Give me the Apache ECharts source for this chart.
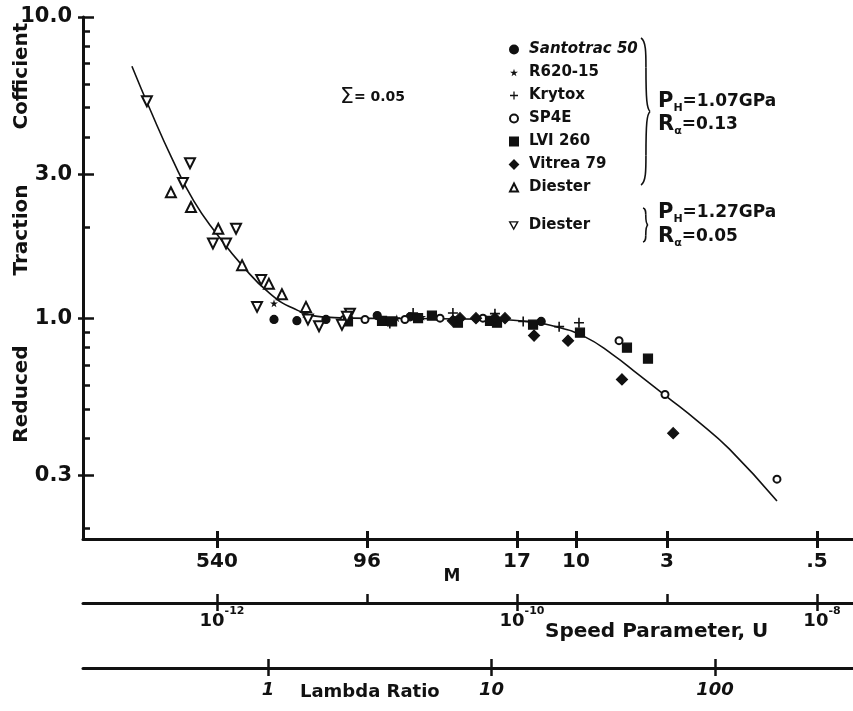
<!DOCTYPE html>
<html>
<head>
<meta charset="utf-8">
<script src="https://cdn.jsdelivr.net/npm/echarts@6/dist/echarts.min.js"></script>
<style>
  html, body { margin: 0; padding: 0; background: #ffffff; }
  #chart { width: 853px; height: 711px; }
</style>
</head>
<body>
<div id="chart"></div>
<script>
// Reduced traction coefficient versus speed parameter U, log–log.
// Each pair is [U, reduced traction coefficient].
const santotrac50 = [[2.40e-12, 0.99], [3.41e-12, 0.981], [5.33e-12, 0.99], [1.17e-11, 1.02], [1.94e-11, 1.01], [3.86e-11, 0.98], [1.45e-10, 0.975]];
const r620_15 = [[2.40e-12, 1.12], [3.86e-12, 1.03], [1.58e-11, 1.0], [2.33e-11, 1.01]];
const krytox = [[1.42e-11, 0.96], [2.03e-11, 1.04], [3.74e-11, 1.04], [7.13e-11, 1.035], [1.10e-10, 0.975], [1.91e-10, 0.937], [2.59e-10, 0.966]];
const sp4e = [[7.03e-12, 0.99], [9.70e-12, 0.99], [1.79e-11, 0.99], [3.07e-11, 1.0], [5.93e-11, 1.0], [4.79e-10, 0.842], [9.70e-10, 0.558], [5.41e-9, 0.292]];
const lvi260 = [[7.47e-12, 0.975], [1.26e-11, 0.98], [1.47e-11, 0.975], [2.19e-11, 1.0], [2.71e-11, 1.02], [4.04e-11, 0.966], [6.61e-11, 0.98], [7.36e-11, 0.966], [1.28e-10, 0.952], [2.63e-10, 0.895], [5.41e-10, 0.798], [7.47e-10, 0.734]];
const vitrea79 = [[3.74e-11, 0.98], [4.17e-11, 1.0], [5.33e-11, 1.0], [7.13e-11, 1.0], [8.32e-11, 1.0], [1.30e-10, 0.875], [2.19e-10, 0.842], [5.01e-10, 0.626], [1.10e-9, 0.415]];
const diester107 = [[4.93e-13, 2.62], [6.71e-13, 2.34], [1.02e-12, 1.98], [1.47e-12, 1.50], [2.22e-12, 1.30], [2.71e-12, 1.20], [3.92e-12, 1.09]];
const diester127 = [[3.41e-13, 5.25], [6.61e-13, 3.27], [5.93e-13, 2.81], [1.34e-12, 1.98], [9.40e-13, 1.77], [1.15e-12, 1.77], [1.97e-12, 1.34], [1.85e-12, 1.09], [4.04e-12, 0.99], [4.79e-12, 0.94], [7.70e-12, 1.035], [6.81e-12, 0.95], [7.36e-12, 1.01]];

// Master curve through the data
const masterCurve = [[2.71e-13, 6.86], [3.60e-13, 4.90], [5.00e-13, 3.40], [7.00e-13, 2.45], [1.00e-12, 1.90], [1.50e-12, 1.48], [2.20e-12, 1.22], [3.20e-12, 1.08], [5.00e-12, 1.01], [8.00e-12, 1.0], [2.00e-11, 0.997], [6.00e-11, 0.993], [1.10e-10, 0.978], [1.80e-10, 0.938], [2.80e-10, 0.870], [4.30e-10, 0.760], [6.50e-10, 0.648], [1.00e-9, 0.548], [1.60e-9, 0.455], [2.60e-9, 0.368], [5.41e-9, 0.247]];

// Tick values and labels
const yMajorTicks = [0.3, 1, 3, 10];
const yMinorTicks = [0.2, 0.4, 0.5, 0.6, 0.7, 0.8, 0.9, 2, 4, 5, 6, 7, 8, 9];
const mLabels = ['540', '96', '17', '10', '3', '.5'];
const mTickU = [1e-12, 1e-11, 1e-10, 2.47e-10, 1e-9, 1e-8];
const uTicks = [1e-12, 1e-11, 1e-10, 1e-9, 1e-8];
const uLabelTicks = [1e-12, 1e-10, 1e-8];
const lambdaTicks = [1, 10, 100];

const seriesNames = ['Santotrac 50', 'R620-15', 'Krytox', 'SP4E', 'LVI 260', 'Vitrea 79', 'Diester (1.07 GPa)', 'Diester (1.27 GPa)'];

const FONT = '"DejaVu Sans", "Liberation Sans", sans-serif';
const INK = '#111111';

const U_MIN = 1.279e-13, U_MAX = 1.738e-8;
const L_MIN = 0.1487, L_MAX = 414.4;
const R_MIN = 0.1848, R_MAX = 10;

const STAR = 'path://M50,0 L61,35 L98,35 L68,57 L79,91 L50,70 L21,91 L32,57 L2,35 L39,35 Z';
const PLUS = 'path://M4.2,0 H5.8 V4.2 H10 V5.8 H5.8 V10 H4.2 V5.8 H0 V4.2 H4.2 Z';
const DOWN_TRIANGLE = 'path://M0,0 L10,0 L5,9 Z';

function sameLog(a, b) { return Math.abs(Math.log10(a) - Math.log10(b)) < 1e-6; }

function bareAxis(extra) {
  return Object.assign({
    type: 'log', logBase: 10,
    position: 'bottom', offset: 0,
    axisLine: { show: false },
    axisTick: { show: false },
    axisLabel: { show: false },
    splitLine: { show: false },
    minorTick: { show: false },
    silent: true
  }, extra);
}

const boldLabel = { fontFamily: FONT, fontWeight: 'bold', color: INK };

const xAxes = [
  // M scale on the main axis
  bareAxis({
    min: U_MIN, max: U_MAX,
    axisLine: { show: true, lineStyle: { color: INK, width: 3 } },
    axisTick: { show: true, customValues: mTickU, length: 9, lineStyle: { color: INK, width: 3 } },
    axisLabel: Object.assign({
      show: true, customValues: mTickU, margin: 13, fontSize: 20,
      formatter: function (v) {
        const i = mTickU.findIndex(function (t) { return sameLog(t, v); });
        return i >= 0 ? mLabels[i] : '';
      }
    }, boldLabel)
  }),
  bareAxis({
    min: U_MIN, max: U_MAX,
    axisTick: { show: true, inside: true, customValues: mTickU, length: 8, lineStyle: { color: INK, width: 3 } }
  }),
  // Speed parameter U
  bareAxis({
    min: U_MIN, max: U_MAX, offset: 64,
    axisLine: { show: true, lineStyle: { color: INK, width: 3 } },
    axisTick: { show: true, customValues: uLabelTicks, length: 8, lineStyle: { color: INK, width: 2.5 } },
    axisLabel: {
      show: true, customValues: uLabelTicks, margin: 3, padding: [0, 0, 0, 10],
      formatter: function (v) { return '{b|10}{s|' + Math.round(Math.log10(v)) + '}'; },
      rich: {
        b: { fontFamily: FONT, fontWeight: 'bold', fontSize: 18, color: INK, lineHeight: 24, verticalAlign: 'bottom' },
        s: { fontFamily: FONT, fontWeight: 'bold', fontSize: 11, color: INK, lineHeight: 24, verticalAlign: 'top' }
      }
    }
  }),
  bareAxis({
    min: U_MIN, max: U_MAX, offset: 64,
    axisTick: { show: true, inside: true, customValues: uTicks, length: 9, lineStyle: { color: INK, width: 2.5 } }
  }),
  // Lambda ratio
  bareAxis({
    min: L_MIN, max: L_MAX, offset: 129,
    axisLine: { show: true, lineStyle: { color: INK, width: 3 } },
    axisTick: { show: true, customValues: lambdaTicks, length: 8, lineStyle: { color: INK, width: 2.5 } },
    axisLabel: Object.assign({
      show: true, customValues: lambdaTicks, margin: 13, fontSize: 18, fontStyle: 'italic',
      formatter: function (v) { return String(Math.round(v)); }
    }, boldLabel)
  }),
  bareAxis({
    min: L_MIN, max: L_MAX, offset: 129,
    axisTick: { show: true, inside: true, customValues: lambdaTicks, length: 9, lineStyle: { color: INK, width: 2.5 } }
  })
];

function bareY(extra) {
  return Object.assign({
    type: 'log', logBase: 10, min: R_MIN, max: R_MAX,
    position: 'left', offset: 0,
    axisLine: { show: false },
    axisTick: { show: false },
    axisLabel: { show: false },
    splitLine: { show: false },
    minorTick: { show: false },
    silent: true
  }, extra);
}

const yAxes = [
  bareY({
    axisLine: { show: true, lineStyle: { color: INK, width: 3 } },
    axisTick: { show: true, inside: true, customValues: yMinorTicks.concat(yMajorTicks), length: 7, lineStyle: { color: INK, width: 2.5 } },
    axisLabel: Object.assign({
      show: true, customValues: yMajorTicks, margin: 11, fontSize: 21,
      formatter: function (v) { return Number(v).toFixed(1); }
    }, boldLabel)
  }),
  bareY({ axisTick: { show: true, inside: true, customValues: yMajorTicks, length: 11, lineStyle: { color: INK, width: 2.5 } } }),
  bareY({ axisTick: { show: true, inside: false, customValues: yMajorTicks, length: 5, lineStyle: { color: INK, width: 2.5 } } })
];

function scatter(name, data, symbol, size, style, extra) {
  return Object.assign({
    name: name, type: 'scatter', data: data,
    xAxisIndex: 0, yAxisIndex: 0,
    symbol: symbol, symbolSize: size,
    itemStyle: Object.assign({ color: INK, borderColor: INK, borderWidth: 1.2, opacity: 1 }, style || {}),
    z: 3
  }, extra || {});
}

const series = [
  {
    name: 'master curve', type: 'line', data: masterCurve,
    xAxisIndex: 0, yAxisIndex: 0,
    smooth: 0.5, showSymbol: false, symbol: 'none',
    lineStyle: { color: INK, width: 1.6 }, z: 2, silent: true
  },
  scatter(seriesNames[0], santotrac50, 'circle', 8),
  scatter(seriesNames[1], r620_15, STAR, 8, { borderWidth: 0 }),
  scatter(seriesNames[2], krytox, PLUS, 10, { borderWidth: 0 }),
  scatter(seriesNames[3], sp4e, 'emptyCircle', 7, { borderWidth: 1.6 }),
  scatter(seriesNames[4], lvi260, 'rect', 9),
  scatter(seriesNames[5], vitrea79, 'diamond', 11),
  scatter(seriesNames[6], diester107, 'emptyTriangle', 10, { borderWidth: 1.4 }),
  scatter(seriesNames[7], diester127, 'emptyTriangle', 10, { borderWidth: 1.4 }, { symbolRotate: 180 })
];

const legendText = { fontFamily: FONT, fontWeight: 'bold', fontSize: 15, color: INK, lineHeight: 15, padding: [0, 0, 0, 6] };
function legendName(n) { return n.indexOf('Diester') === 0 ? 'Diester' : n; }

const legendBase = {
  orient: 'vertical', left: 504,
  itemWidth: 8, itemHeight: 8, itemGap: 8,
  symbolKeepAspect: true,
  selectedMode: false,
  formatter: legendName,
  textStyle: legendText
};

const legends = [
  Object.assign({}, legendBase, {
    top: 37,
    data: seriesNames.slice(0, 7).map(function (n, i) {
      return i === 0 ? { name: n, textStyle: { fontStyle: 'italic' } } : { name: n };
    })
  }),
  Object.assign({}, legendBase, {
    top: 213,
    data: [{
      name: seriesNames[7],
      icon: DOWN_TRIANGLE,
      itemStyle: { color: '#ffffff', borderColor: INK, borderWidth: 1.4 }
    }]
  })
];

function brace(x0, yTop, yBottom, depth) {
  const yMid = (yTop + yBottom) / 2;
  const h = yBottom - yTop;
  const spine = x0 + depth * 0.55;
  const tip = x0 + depth;
  const ls = { stroke: INK, lineWidth: 1.6, fill: null };
  return [
    { type: 'bezierCurve', shape: { x1: x0, y1: yTop, cpx1: spine, cpy1: yTop + h * 0.02, cpx2: spine, cpy2: yTop + h * 0.1, x2: spine, y2: yTop + h * 0.2 }, style: ls, silent: true },
    { type: 'bezierCurve', shape: { x1: spine, y1: yTop + h * 0.2, cpx1: spine, cpy1: yMid - h * 0.08, cpx2: spine + depth * 0.1, cpy2: yMid - h * 0.02, x2: tip, y2: yMid }, style: ls, silent: true },
    { type: 'bezierCurve', shape: { x1: tip, y1: yMid, cpx1: spine + depth * 0.1, cpy1: yMid + h * 0.02, cpx2: spine, cpy2: yMid + h * 0.08, x2: spine, y2: yBottom - h * 0.2 }, style: ls, silent: true },
    { type: 'bezierCurve', shape: { x1: spine, y1: yBottom - h * 0.2, cpx1: spine, cpy1: yBottom - h * 0.1, cpx2: spine, cpy2: yBottom - h * 0.02, x2: x0, y2: yBottom }, style: ls, silent: true }
  ];
}

function condition(x, y, sym, sub, rest) {
  return {
    type: 'text', x: x, y: y, silent: true,
    style: {
      text: '{p|' + sym + '}{h|' + sub + '}{t|' + rest + '}',
      align: 'left', verticalAlign: 'middle',
      rich: {
        p: { fontFamily: FONT, fontWeight: 'bold', fontSize: 21, fill: INK, lineHeight: 24, verticalAlign: 'middle' },
        h: { fontFamily: FONT, fontWeight: 'bold', fontSize: 11, fill: INK, lineHeight: 24, verticalAlign: 'bottom' },
        t: { fontFamily: FONT, fontWeight: 'bold', fontSize: 17, fill: INK, lineHeight: 24, verticalAlign: 'middle' }
      }
    }
  };
}

function yWord(text, cy) {
  return {
    type: 'text', x: 22, y: cy, rotation: Math.PI / 2, silent: true,
    style: { text: text, fontFamily: FONT, fontWeight: 'bold', fontSize: 20, fill: INK, align: 'center', verticalAlign: 'middle' }
  };
}

const graphics = [
  yWord('Cofficient', 76),
  yWord('Traction', 230),
  yWord('Reduced', 394),
  {
    type: 'text', x: 340, y: 97, silent: true,
    style: {
      text: '{s|Σ}{t|= 0.05}', align: 'left', verticalAlign: 'middle',
      rich: {
        s: { fontFamily: FONT, fontSize: 22, fill: INK, lineHeight: 24, verticalAlign: 'middle' },
        t: { fontFamily: FONT, fontWeight: 'bold', fontSize: 14, fill: INK, lineHeight: 24, verticalAlign: 'middle' }
      }
    }
  },
  condition(658, 102, 'P', 'H', '=1.07GPa'),
  condition(658, 125, 'R', 'α', '=0.13'),
  condition(658, 213, 'P', 'H', '=1.27GPa'),
  condition(658, 237, 'R', 'α', '=0.05'),
  { type: 'text', x: 452, y: 577, silent: true, style: { text: 'M', fontFamily: FONT, fontWeight: 'bold', fontSize: 17, fill: INK, align: 'center', verticalAlign: 'middle' } },
  { type: 'text', x: 545, y: 632, silent: true, style: { text: 'Speed Parameter, U', fontFamily: FONT, fontWeight: 'bold', fontSize: 20, fill: INK, align: 'left', verticalAlign: 'middle' } },
  { type: 'text', x: 300, y: 692, silent: true, style: { text: 'Lambda Ratio', fontFamily: FONT, fontWeight: 'bold', fontSize: 18, fill: INK, align: 'left', verticalAlign: 'middle' } }
].concat(brace(641, 38, 185, 9)).concat(brace(643, 208, 242, 5));

const chart = echarts.init(document.getElementById('chart'), null, { renderer: 'canvas' });
chart.setOption({
  backgroundColor: '#ffffff',
  animation: false,
  grid: { left: 83, right: 0, top: 17, bottom: 172, containLabel: false, outerBoundsMode: 'none' },
  xAxis: xAxes,
  yAxis: yAxes,
  legend: legends,
  series: series,
  graphic: graphics
});
</script>
</body>
</html>
